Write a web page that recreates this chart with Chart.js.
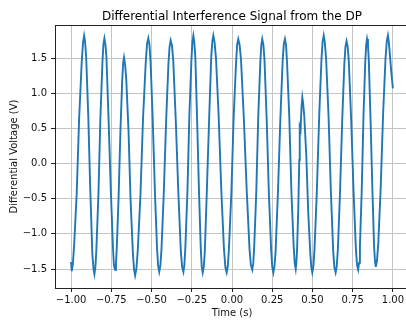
<!DOCTYPE html>
<html>
<head>
<meta charset="utf-8">
<script src="https://cdn.jsdelivr.net/npm/chart.js@4/dist/chart.umd.min.js"></script>
<style>
  html, body { margin: 0; padding: 0; background: #fff; overflow: hidden; }
</style>
</head>
<body>
<canvas id="dpChart" width="410" height="321"></canvas>
<script>
// values, one row per half swing
const timeS = [
  -1.000, -0.996, -0.989, -0.981, -0.965, -0.950, -0.934, -0.926,
  -0.919, -0.913, -0.906, -0.893, -0.881, -0.868, -0.861,
  -0.855, -0.849, -0.843, -0.830, -0.818, -0.805, -0.799,
  -0.793, -0.786, -0.780, -0.767, -0.753, -0.740, -0.734,
  -0.727, -0.721, -0.716, -0.705, -0.693, -0.682, -0.676,
  -0.671, -0.664, -0.657, -0.643, -0.630, -0.616, -0.609,
  -0.602, -0.594, -0.586, -0.569, -0.553, -0.536, -0.528,
  -0.520, -0.513, -0.506, -0.493, -0.479, -0.466, -0.459,
  -0.452, -0.445, -0.438, -0.424, -0.409, -0.395, -0.388,
  -0.381, -0.373, -0.365, -0.349, -0.334, -0.318, -0.310,
  -0.302, -0.296, -0.290, -0.277, -0.265, -0.252, -0.246,
  -0.240, -0.234, -0.228, -0.217, -0.205, -0.194, -0.188,
  -0.182, -0.175, -0.169, -0.156, -0.142, -0.129, -0.122,
  -0.116, -0.108, -0.099, -0.083, -0.066, -0.050, -0.041,
  -0.033, -0.026, -0.019, -0.004, 0.010, 0.025, 0.032,
  0.039, 0.047, 0.056, 0.074, 0.091, 0.109, 0.117,
  0.126, 0.132, 0.138, 0.151, 0.163, 0.176, 0.182,
  0.188, 0.195, 0.202, 0.216, 0.229, 0.243, 0.250,
  0.257, 0.264, 0.271, 0.286, 0.300, 0.315, 0.322,
  0.329, 0.336, 0.342, 0.356, 0.369, 0.383, 0.390,
  0.396, 0.400, 0.404, 0.412, 0.418, 0.421, 0.426, 0.432,
  0.437, 0.442, 0.449, 0.462, 0.474, 0.487, 0.493,
  0.499, 0.506, 0.513, 0.527, 0.542, 0.556, 0.563,
  0.570, 0.577, 0.585, 0.600, 0.614, 0.629, 0.636,
  0.644, 0.651, 0.658, 0.671, 0.685, 0.698, 0.705,
  0.712, 0.719, 0.726, 0.741, 0.755, 0.770, 0.777,
  0.784, 0.790, 0.795, 0.806, 0.817, 0.828, 0.834,
  0.839, 0.845, 0.850, 0.861, 0.872, 0.883, 0.889,
  0.894, 0.901, 0.909, 0.924, 0.939, 0.954, 0.962,
  0.969, 0.975, 0.980, 0.990, 1.000
];
const voltageV = [
  -1.40, -1.53, -1.43, -1.16, -0.42, 0.64, 1.44, 1.72,
  1.82, 1.73, 1.50, 0.66, -0.36, -1.28, -1.49,
  -1.57, -1.47, -1.23, -0.43, 0.64, 1.45, 1.70,
  1.78, 1.68, 1.49, 0.62, -0.39, -1.18, -1.44,
  -1.51, -1.42, -1.20, -0.49, 0.49, 1.20, 1.44,
  1.51, 1.40, 1.19, 0.46, -0.54, -1.27, -1.50,
  -1.59, -1.49, -1.25, -0.45, 0.64, 1.44, 1.70,
  1.78, 1.69, 1.44, 0.65, -0.41, -1.20, -1.46,
  -1.54, -1.45, -1.21, -0.42, 0.63, 1.42, 1.66,
  1.75, 1.68, 1.46, 0.59, -0.38, -1.25, -1.47,
  -1.54, -1.44, -1.20, -0.40, 0.68, 1.48, 1.73,
  1.82, 1.72, 1.52, 0.64, -0.41, -1.21, -1.47,
  -1.55, -1.46, -1.25, -0.37, 0.64, 1.52, 1.74,
  1.82, 1.72, 1.48, 0.68, -0.41, -1.21, -1.48,
  -1.55, -1.46, -1.21, -0.42, 0.64, 1.43, 1.69,
  1.77, 1.69, 1.48, 0.62, -0.36, -1.22, -1.44,
  -1.51, -1.42, -1.18, -0.40, 0.66, 1.44, 1.68,
  1.77, 1.69, 1.47, 0.60, -0.42, -1.21, -1.47,
  -1.55, -1.46, -1.25, -0.38, 0.60, 1.47, 1.70,
  1.77, 1.68, 1.44, 0.66, -0.39, -1.17, -1.42,
  -1.50, -1.41, -1.25, -0.64, 0.05, 0.52, 0.48, 0.80,
  0.94, 0.86, 0.68, 0.10, -0.71, -1.29, -1.48,
  -1.55, -1.46, -1.21, -0.41, 0.68, 1.48, 1.73,
  1.82, 1.72, 1.48, 0.68, -0.37, -1.25, -1.47,
  -1.55, -1.46, -1.22, -0.43, 0.62, 1.41, 1.66,
  1.74, 1.66, 1.45, 0.60, -0.37, -1.22, -1.44,
  -1.51, -1.41, -1.18, -0.40, 0.66, 1.44, 1.69,
  1.77, 1.68, 1.48, 0.63, -0.33, -1.18, -1.40,
  -1.47, -1.38, -1.14, -0.35, 0.70, 1.49, 1.74,
  1.82, 1.72, 1.58, 1.30, 1.07
];
const xTicks = [-1, -0.75, -0.5, -0.25, 0, 0.25, 0.5, 0.75, 1];
const yTicks = [-1.5, -1, -0.5, 0, 0.5, 1, 1.5];

const font = 'DejaVu Sans';
const minus = s => s.replace('-', '\u2212');

// title centred over the axes + top/right spines
const framePlugin = {
  id: 'frame',
  afterDraw(chart) {
    const c = chart.ctx, a = chart.chartArea;
    c.save();
    c.strokeStyle = '#222';
    c.lineWidth = 1;
    c.beginPath();
    c.moveTo(a.left, a.top + 0.5);
    c.lineTo(a.right, a.top + 0.5);
    c.moveTo(a.right - 0.5, a.top);
    c.lineTo(a.right - 0.5, a.bottom);
    c.stroke();
    c.fillStyle = '#000';
    c.font = '12px "' + font + '"';
    c.textAlign = 'center';
    c.textBaseline = 'alphabetic';
    c.fillText('Differential Interference Signal from the DP', (a.left + a.right) / 2, 19.5);
    c.restore();
  }
};

const ctx = document.getElementById('dpChart').getContext('2d');
new Chart(ctx, {
  type: 'line',
  data: {
    datasets: [{
      data: timeS.map((t, i) => ({ x: t, y: voltageV[i] })),
      borderColor: '#1f77b4',
      borderWidth: 1.9,
      pointRadius: 0,
      tension: 0,
      fill: false
    }]
  },
  options: {
    responsive: false,
    animation: false,
    layout: { padding: { top: 25, right: 1, left: 0, bottom: 0 } },
    plugins: { legend: { display: false }, tooltip: { enabled: false } },
    scales: {
      x: {
        type: 'linear',
        min: -1.1,
        max: 1.1,
        afterBuildTicks: s => { s.ticks = xTicks.map(v => ({ value: v })); },
        afterFit: s => { s.height = 33; },
        grid: { color: '#c4c4c4', lineWidth: 1, tickLength: 4, tickColor: '#222' },
        border: { color: '#222', width: 1 },
        ticks: {
          color: '#111', padding: 2, maxRotation: 0, autoSkip: false,
          font: { family: font, size: 10 },
          callback: v => minus(v.toFixed(2))
        },
        title: {
          display: true, text: 'Time (s)', color: '#111',
          font: { family: font, size: 10 }, padding: { top: 0, bottom: 2 }
        }
      },
      y: {
        min: -1.77,
        max: 1.97,
        afterBuildTicks: s => { s.ticks = yTicks.map(v => ({ value: v })); },
        afterFit: s => { s.width = 55; },
        grid: { color: '#c4c4c4', lineWidth: 1, tickLength: 4, tickColor: '#222' },
        border: { color: '#222', width: 1 },
        ticks: {
          color: '#111', padding: 4, autoSkip: false,
          font: { family: font, size: 10 },
          callback: v => minus(v.toFixed(1))
        },
        title: {
          display: true, text: 'Differential Voltage (V)', color: '#111',
          font: { family: font, size: 10 }, padding: { top: 8, bottom: 8 }
        }
      }
    }
  },
  plugins: [framePlugin]
});
</script>
</body>
</html>
